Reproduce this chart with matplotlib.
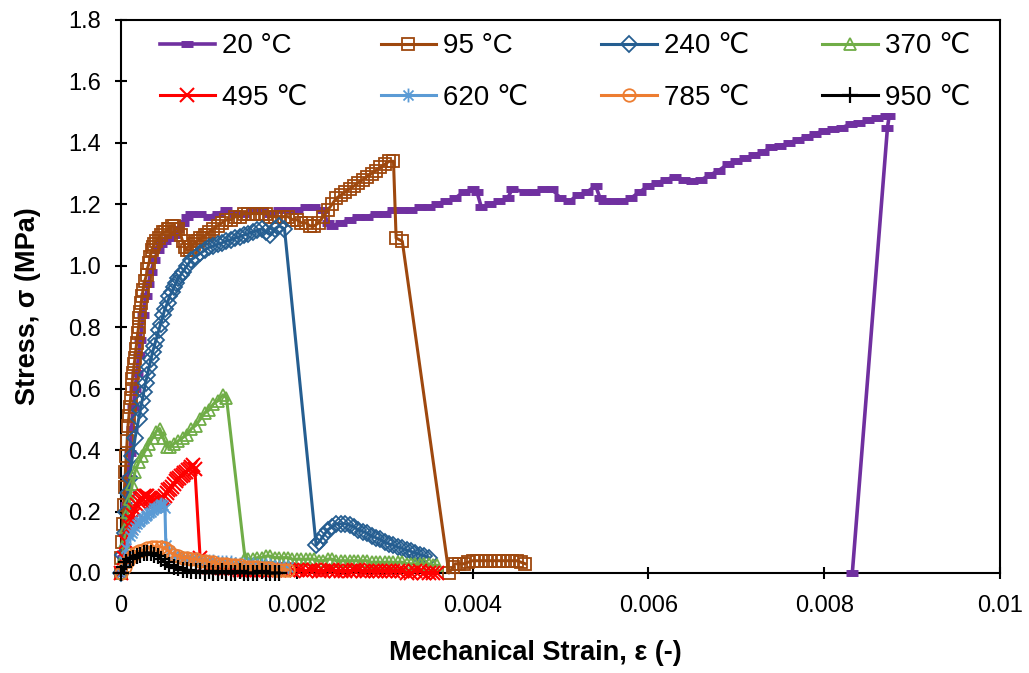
import matplotlib
matplotlib.use("Agg")
import matplotlib.pyplot as plt
from matplotlib.path import Path

plt.rcParams['font.family'] = ['Liberation Sans', 'DejaVu Sans']

labels = ["20 °C", "95 °C", "240 ℃", "370 ℃", "495 ℃", "620 ℃", "785 ℃", "950 ℃"]
colors = ["#7030A0", "#9E480E", "#255E91", "#70AD47", "#FF0000", "#5B9BD5", "#ED7D31", "#000000"]

# 20 °C
x20 = [0.0, 0.00002, 0.00004, 0.00006, 0.00008, 0.0001, 0.00012, 0.00014, 0.00016, 0.00018,
       0.0002, 0.00022, 0.00025, 0.00028, 0.00031, 0.00034, 0.00038, 0.00042, 0.00046, 0.0005,
       0.00055, 0.0006, 0.00065, 0.0007, 0.00075, 0.0008, 0.0009, 0.001, 0.0011, 0.0012,
       0.0013, 0.0014, 0.0015, 0.0016, 0.0017, 0.0018, 0.0019, 0.002, 0.0021, 0.0022,
       0.0023, 0.00235, 0.0024, 0.0025, 0.0026, 0.0027, 0.0028, 0.0029, 0.003, 0.0031,
       0.0032, 0.0033, 0.0034, 0.0035, 0.0036, 0.0037, 0.0038, 0.0039, 0.004, 0.00405,
       0.0041, 0.0042, 0.0043, 0.0044, 0.00445, 0.0046, 0.0047, 0.0048, 0.0049, 0.005,
       0.0051, 0.0052, 0.0053, 0.0054, 0.00545, 0.0055, 0.0056, 0.0057, 0.0058, 0.0059,
       0.006, 0.0061, 0.0062, 0.0063, 0.0064, 0.0065, 0.0066, 0.0067, 0.0068, 0.0069,
       0.007, 0.0071, 0.0072, 0.0073, 0.0074, 0.0075, 0.0076, 0.0077, 0.0078, 0.0079,
       0.008, 0.0081, 0.0082, 0.0083, 0.0084, 0.0085, 0.0086, 0.0087, 0.00874, 0.00872,
       0.00832]
y20 = [0.0, 0.05, 0.13, 0.22, 0.31, 0.39, 0.47, 0.54, 0.60, 0.65,
       0.71, 0.76, 0.84, 0.90, 0.94, 0.98, 1.02, 1.05, 1.07, 1.08,
       1.09, 1.10, 1.12, 1.14, 1.16, 1.17, 1.17, 1.16, 1.17, 1.18,
       1.17, 1.17, 1.18, 1.18, 1.17, 1.18, 1.18, 1.18, 1.19, 1.19,
       1.18, 1.14, 1.13, 1.14, 1.15, 1.16, 1.16, 1.17, 1.17, 1.18,
       1.18, 1.18, 1.19, 1.19, 1.20, 1.21, 1.22, 1.24, 1.25, 1.24,
       1.19, 1.20, 1.21, 1.22, 1.25, 1.24, 1.24, 1.25, 1.25, 1.22,
       1.21, 1.23, 1.24, 1.26, 1.22, 1.21, 1.21, 1.21, 1.22, 1.24,
       1.26, 1.27, 1.28, 1.29, 1.28, 1.275, 1.28, 1.295, 1.31, 1.33,
       1.34, 1.35, 1.36, 1.37, 1.385, 1.39, 1.40, 1.41, 1.42, 1.43,
       1.44, 1.445, 1.45, 1.46, 1.465, 1.475, 1.48, 1.487, 1.488, 1.45,
       0.0]

# 95 °C
x95 = [0.0, 0.0, 0.00001, 0.00002, 0.00003, 0.00004, 0.00005, 0.00006, 0.00007, 0.00008,
       0.00009, 0.0001, 0.00011, 0.00012, 0.00013, 0.00014, 0.00015, 0.00016, 0.00017, 0.00018,
       0.00019, 0.0002, 0.00021, 0.00022, 0.00023, 0.00024, 0.00025, 0.00027, 0.00029, 0.0003,
       0.00032, 0.00033, 0.00035, 0.00036, 0.00038, 0.0004, 0.00043, 0.00045, 0.00048, 0.0005,
       0.00053, 0.00055, 0.00058, 0.0006, 0.00063, 0.00065, 0.00068, 0.0007, 0.00073, 0.00075,
       0.00078, 0.0008, 0.00083, 0.00085, 0.00088, 0.0009, 0.00093, 0.00095, 0.00098, 0.001,
       0.00105, 0.0011, 0.00115, 0.0012, 0.00125, 0.0013, 0.00135, 0.0014, 0.00145, 0.0015,
       0.00155, 0.0016, 0.00165, 0.0017, 0.00175, 0.0018, 0.00185, 0.0019, 0.00195, 0.002,
       0.00205, 0.0021, 0.00215, 0.0022, 0.00225, 0.0023, 0.00235, 0.0024, 0.00245, 0.0025,
       0.00255, 0.0026, 0.00265, 0.0027, 0.00275, 0.0028, 0.00285, 0.0029, 0.00295, 0.003,
       0.00305, 0.0031, 0.00313, 0.0032, 0.00373, 0.00378, 0.0038, 0.00385, 0.0039, 0.00395,
       0.004, 0.00405, 0.0041, 0.00415, 0.0042, 0.00425, 0.0043, 0.00435, 0.0044, 0.00445,
       0.0045, 0.00455, 0.0046]
y95 = [0.0, 0.05, 0.10, 0.16, 0.22, 0.28, 0.33, 0.38, 0.43, 0.48,
       0.51, 0.54, 0.57, 0.60, 0.63, 0.65, 0.68, 0.70, 0.73, 0.75,
       0.78, 0.80, 0.83, 0.85, 0.88, 0.90, 0.92, 0.95, 0.97, 0.99,
       1.01, 1.03, 1.05, 1.06, 1.07, 1.08, 1.09, 1.10, 1.11, 1.11,
       1.12, 1.12, 1.13, 1.13, 1.12, 1.12, 1.10, 1.08, 1.06, 1.05,
       1.05, 1.06, 1.07, 1.08, 1.08, 1.09, 1.09, 1.10, 1.10, 1.11,
       1.12, 1.13, 1.14, 1.15, 1.15, 1.16, 1.16, 1.17, 1.17, 1.17,
       1.17, 1.17, 1.17, 1.16, 1.16, 1.16, 1.16, 1.16, 1.15, 1.15,
       1.14, 1.14, 1.13, 1.13, 1.14, 1.16, 1.18, 1.20, 1.22, 1.23,
       1.24, 1.25, 1.26, 1.27, 1.28, 1.29, 1.30, 1.31, 1.32, 1.33,
       1.34, 1.34, 1.09, 1.08, 0.0, 0.02, 0.03, 0.03, 0.03, 0.035,
       0.04, 0.04, 0.04, 0.04, 0.04, 0.04, 0.04, 0.04, 0.04, 0.04,
       0.04, 0.035, 0.03]

# 240 ℃
x240 = [0.0, 0.00002, 0.00004, 0.00006, 0.00008, 0.0001, 0.00013, 0.00016, 0.0002, 0.00022,
        0.00024, 0.00026, 0.00028, 0.0003, 0.00032, 0.00034, 0.00036, 0.00038, 0.0004, 0.00043,
        0.00045, 0.00048, 0.0005, 0.00053, 0.00055, 0.00058, 0.0006, 0.00063, 0.00065, 0.00068,
        0.0007, 0.00075, 0.0008, 0.00085, 0.0009, 0.00095, 0.001, 0.00105, 0.0011, 0.00115,
        0.0012, 0.00125, 0.0013, 0.00135, 0.0014, 0.00145, 0.0015, 0.00155, 0.0016, 0.00165,
        0.0017, 0.00175, 0.0018, 0.00186, 0.00222, 0.00225, 0.0023, 0.00235, 0.0024, 0.00245,
        0.0025, 0.00255, 0.0026, 0.00265, 0.0027, 0.00275, 0.0028, 0.00285, 0.0029, 0.00295,
        0.003, 0.00305, 0.0031, 0.00315, 0.0032, 0.00325, 0.0033, 0.00335, 0.0034, 0.00345,
        0.0035]
y240 = [0.0, 0.06, 0.13, 0.20, 0.26, 0.31, 0.38, 0.44, 0.50, 0.53,
        0.56, 0.59, 0.62, 0.645, 0.67, 0.695, 0.72, 0.74, 0.76, 0.79,
        0.81, 0.84, 0.86, 0.88, 0.90, 0.915, 0.93, 0.945, 0.96, 0.97,
        0.98, 1.00, 1.02, 1.03, 1.04, 1.05, 1.06, 1.065, 1.07, 1.075,
        1.08, 1.085, 1.09, 1.095, 1.10, 1.105, 1.11, 1.115, 1.12, 1.11,
        1.10, 1.12, 1.13, 1.12, 0.09, 0.10, 0.12, 0.14, 0.15, 0.16,
        0.16, 0.16, 0.155, 0.15, 0.14, 0.135, 0.13, 0.12, 0.115, 0.11,
        0.10, 0.095, 0.09, 0.085, 0.08, 0.075, 0.07, 0.065, 0.06, 0.055,
        0.05]

# 370 ℃
x370 = [0.0, 0.00002, 0.00004, 0.00006, 0.00008, 0.0001, 0.00013, 0.00016, 0.0002, 0.00024,
        0.00028, 0.00032, 0.00036, 0.0004, 0.00044, 0.00048, 0.00052, 0.00056, 0.0006, 0.00065,
        0.0007, 0.00075, 0.0008, 0.00085, 0.0009, 0.00095, 0.001, 0.00105, 0.0011, 0.00116,
        0.0012, 0.00141, 0.00145, 0.0015, 0.00155, 0.0016, 0.00165, 0.0017, 0.00175, 0.0018,
        0.00185, 0.0019, 0.00195, 0.002, 0.00205, 0.0021, 0.00215, 0.0022, 0.00225, 0.0023,
        0.00235, 0.0024, 0.00245, 0.0025, 0.00255, 0.0026, 0.00265, 0.0027, 0.00275, 0.0028,
        0.00285, 0.0029, 0.00295, 0.003, 0.00305, 0.0031, 0.00315, 0.0032, 0.00325, 0.0033,
        0.00335, 0.0034, 0.00345, 0.0035, 0.00355, 0.0036]
y370 = [0.0, 0.05, 0.10, 0.15, 0.20, 0.24, 0.29, 0.33, 0.36, 0.38,
        0.40, 0.42, 0.44, 0.46, 0.47, 0.44, 0.41, 0.41, 0.42, 0.43,
        0.44, 0.45, 0.47, 0.48, 0.50, 0.52, 0.53, 0.55, 0.56, 0.58,
        0.57, 0.05, 0.045, 0.045, 0.05, 0.05, 0.055, 0.055, 0.05, 0.05,
        0.05, 0.05, 0.045, 0.045, 0.045, 0.045, 0.045, 0.045, 0.04, 0.04,
        0.045, 0.045, 0.04, 0.04, 0.04, 0.04, 0.04, 0.04, 0.04, 0.04,
        0.035, 0.035, 0.035, 0.035, 0.035, 0.035, 0.035, 0.035, 0.03, 0.03,
        0.03, 0.03, 0.03, 0.03, 0.025, 0.025]

# 495 ℃
x495 = [0.0, 0.00003, 0.00006, 0.0001, 0.00012, 0.00014, 0.00016, 0.00018, 0.0002, 0.00022,
        0.00024, 0.00026, 0.00028, 0.0003, 0.00032, 0.00034, 0.00036, 0.00038, 0.0004, 0.00042,
        0.00044, 0.00046, 0.00048, 0.0005, 0.00052, 0.00054, 0.00056, 0.00058, 0.0006, 0.00062,
        0.00064, 0.00066, 0.00068, 0.0007, 0.00072, 0.00074, 0.00076, 0.00078, 0.0008, 0.00082,
        0.00084, 0.0009, 0.00095, 0.001, 0.00105, 0.0011, 0.00115, 0.0012, 0.00125, 0.0013,
        0.00135, 0.0014, 0.00145, 0.0015, 0.00155, 0.0016, 0.00165, 0.0017, 0.00175, 0.0018,
        0.00185, 0.0019, 0.00195, 0.002, 0.00205, 0.0021, 0.00215, 0.0022, 0.00225, 0.0023,
        0.00235, 0.0024, 0.00245, 0.0025, 0.00255, 0.0026, 0.00265, 0.0027, 0.00275, 0.0028,
        0.00285, 0.0029, 0.00295, 0.003, 0.00305, 0.0031, 0.00315, 0.0032, 0.00325, 0.0033,
        0.00335, 0.0034, 0.00345, 0.0035, 0.00355, 0.0036]
y495 = [0.0, 0.05, 0.10, 0.15, 0.17, 0.19, 0.205, 0.22, 0.23, 0.24,
        0.245, 0.25, 0.25, 0.25, 0.245, 0.24, 0.235, 0.23, 0.23, 0.23,
        0.235, 0.24, 0.245, 0.25, 0.26, 0.27, 0.275, 0.28, 0.29, 0.30,
        0.305, 0.31, 0.315, 0.32, 0.325, 0.33, 0.335, 0.34, 0.345, 0.35,
        0.34, 0.05, 0.03, 0.02, 0.02, 0.02, 0.015, 0.015, 0.015, 0.015,
        0.01, 0.01, 0.01, 0.01, 0.01, 0.01, 0.01, 0.01, 0.01, 0.01,
        0.01, 0.01, 0.01, 0.01, 0.01, 0.005, 0.01, 0.01, 0.005, 0.005,
        0.01, 0.01, 0.005, 0.005, 0.005, 0.005, 0.01, 0.01, 0.005, 0.005,
        0.005, 0.005, 0.005, 0.005, 0.005, 0.005, 0.005, 0.005, 0.0, 0.0,
        0.005, 0.005, 0.0, 0.0, 0.0, 0.0]

# 620 ℃
x620 = [0.0, 0.00003, 0.00006, 0.0001, 0.00012, 0.00014, 0.00016, 0.00018, 0.0002, 0.00022,
        0.00024, 0.00026, 0.00028, 0.0003, 0.00032, 0.00034, 0.00036, 0.00038, 0.0004, 0.00042,
        0.00044, 0.00046, 0.00048, 0.0005, 0.00051, 0.00055, 0.0006, 0.00065, 0.0007, 0.00075,
        0.0008, 0.00085, 0.0009, 0.00095, 0.001, 0.00105, 0.0011, 0.00115, 0.0012, 0.00125,
        0.0013, 0.00135, 0.0014, 0.00145, 0.0015, 0.00155, 0.0016, 0.00165, 0.0017, 0.00175,
        0.0018, 0.00185, 0.0019]
y620 = [0.0, 0.04, 0.08, 0.12, 0.13, 0.14, 0.15, 0.16, 0.165, 0.17,
        0.175, 0.18, 0.185, 0.19, 0.195, 0.20, 0.205, 0.21, 0.21, 0.215,
        0.22, 0.225, 0.22, 0.21, 0.09, 0.07, 0.06, 0.055, 0.05, 0.05,
        0.045, 0.045, 0.04, 0.04, 0.04, 0.04, 0.035, 0.035, 0.035, 0.035,
        0.03, 0.03, 0.03, 0.03, 0.03, 0.025, 0.025, 0.025, 0.025, 0.02,
        0.02, 0.02, 0.02]

# 785 ℃
x785 = [0.0, 0.00004, 0.00008, 0.00012, 0.00016, 0.0002, 0.00025, 0.0003, 0.00035, 0.0004,
        0.00045, 0.0005, 0.00055, 0.0006, 0.00065, 0.0007, 0.00075, 0.0008, 0.00085, 0.0009,
        0.00095, 0.001, 0.00105, 0.0011, 0.00115, 0.0012, 0.00125, 0.0013, 0.00135, 0.0014,
        0.00145, 0.0015, 0.00155, 0.0016, 0.00165, 0.0017, 0.00175, 0.0018, 0.00185, 0.0019]
y785 = [0.0, 0.02, 0.04, 0.055, 0.065, 0.07, 0.075, 0.08, 0.085, 0.085,
        0.085, 0.08, 0.07, 0.06, 0.055, 0.05, 0.05, 0.045, 0.045, 0.04,
        0.04, 0.035, 0.035, 0.03, 0.03, 0.03, 0.025, 0.025, 0.025, 0.02,
        0.02, 0.02, 0.02, 0.015, 0.015, 0.015, 0.01, 0.01, 0.01, 0.01]

# 950 ℃
x950 = [0.0, 0.00003, 0.00006, 0.0001, 0.00014, 0.00018, 0.00022, 0.00026, 0.0003, 0.00034,
        0.00038, 0.00042, 0.00046, 0.0005, 0.00055, 0.0006, 0.00065, 0.0007, 0.00075, 0.0008,
        0.00085, 0.0009, 0.00095, 0.001, 0.00105, 0.0011, 0.00115, 0.0012, 0.00125, 0.0013,
        0.00135, 0.0014, 0.00145, 0.0015, 0.00155, 0.0016, 0.00165, 0.0017, 0.00175, 0.0018]
y950 = [0.0, 0.02, 0.035, 0.045, 0.05, 0.055, 0.06, 0.065, 0.065, 0.065,
        0.06, 0.055, 0.045, 0.035, 0.025, 0.02, 0.015, 0.01, 0.01, 0.005,
        0.005, 0.005, 0.0, 0.005, 0.0, 0.0, 0.005, 0.0, 0.0, 0.0,
        0.005, 0.0, 0.0, 0.0, 0.0, 0.005, 0.0, 0.0, 0.0, 0.0]

xs = [x20, x95, x240, x370, x495, x620, x785, x950]
ys = [y20, y95, y240, y370, y495, y620, y785, y950]

xticks = [0, 0.002, 0.004, 0.006, 0.008, 0.01]
xticklabels = ["0", "0.002", "0.004", "0.006", "0.008", "0.01"]
yticks = [0.0, 0.2, 0.4, 0.6, 0.8, 1.0, 1.2, 1.4, 1.6, 1.8]

star = Path([(0, -1), (0, 1), (-0.72, -0.72), (0.72, 0.72), (-0.72, 0.72), (0.72, -0.72)],
            [Path.MOVETO, Path.LINETO, Path.MOVETO, Path.LINETO, Path.MOVETO, Path.LINETO])

markers = ['_', 's', 'D', '^', 'x', star, 'o', '+']
msizes = [9, 9, 8, 9, 10, 10, 9, 11]
mews = [5.0, 1.3, 1.3, 1.3, 1.5, 1.3, 1.3, 1.6]
lws = [2.6, 2.2, 2.2, 2.2, 2.2, 2.2, 2.2, 2.2]

fig = plt.figure(figsize=(10.29, 6.73), dpi=100)
ax = fig.add_axes([0.1176, 0.1486, 0.9718 - 0.1176, 0.9703 - 0.1486])

handles = []
for i in range(8):
    h, = ax.plot(xs[i], ys[i], color=colors[i], lw=lws[i], marker=markers[i],
                 ms=msizes[i], mew=mews[i], mfc='none', mec=colors[i],
                 label=labels[i], clip_on=False, zorder=3 + i)
    handles.append(h)

ax.set_xlim(0, 0.01)
ax.set_ylim(0, 1.8)
ax.set_xticks(xticks)
ax.set_xticklabels(xticklabels)
ax.set_yticks(yticks)
ax.set_yticklabels([f"{v:.1f}" for v in yticks])
ax.tick_params(axis='both', direction='inout', length=9, width=1.5, labelsize=17)
ax.tick_params(axis='x', pad=11)
ax.tick_params(axis='y', pad=10)
for s in ax.spines.values():
    s.set_linewidth(1.5)
    s.set_color('black')

ax.set_xlabel("Mechanical Strain, ε (-)", fontsize=19.5, fontweight='bold')
ax.set_ylabel("Stress, σ (MPa)", fontsize=19.5, fontweight='bold')
ax.xaxis.set_label_coords(0.471, -0.122)
ax.yaxis.set_label_coords(-0.091, 0.483)

order = [0, 4, 1, 5, 2, 6, 3, 7]
leg = ax.legend([handles[k] for k in order], [labels[k] for k in order],
                ncol=4, loc='upper left', bbox_to_anchor=(0.044, 0.976), frameon=False,
                fontsize=20, handlelength=2.0, handletextpad=0.26, columnspacing=2.62,
                labelspacing=0.92, borderpad=0, borderaxespad=0)

fig.savefig("out.png", dpi=100)
